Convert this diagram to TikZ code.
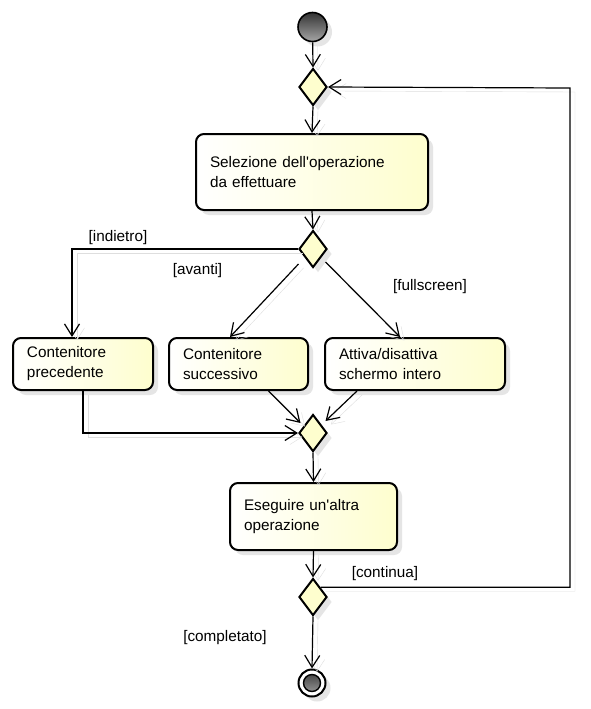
\documentclass[tikz,border=0pt]{standalone}
\usepackage{fontspec}
\setmainfont{Liberation Sans}
\usetikzlibrary{shapes.geometric,arrows.meta,shadows,calc}
\definecolor{actyellow}{RGB}{254,254,206}
\begin{document}
\begin{tikzpicture}[x=1pt,y=-1pt,
  font=\fontsize{15.3pt}{20pt}\selectfont,
  shadowed/.style={drop shadow={shadow xshift=5pt,shadow yshift=-5pt,fill=black!20}},
  act/.style={rectangle, rounded corners=8pt, draw, line width=2pt,
    left color=white, right color=actyellow, inner xsep=14pt, inner ysep=4pt,
    align=left, shadowed},
  dia/.style={diamond, draw, line width=2pt, fill=actyellow, inner sep=0pt,
    minimum width=28pt, minimum height=37pt, shadowed},
  conn/.style={line width=1.2pt, -{Straight Barb[length=12pt,width=15pt]},
    preaction={draw=black!13, transform canvas={shift={(5pt,-4pt)}}}},
  guard/.style={inner sep=1pt}
]
\path[use as bounding box, fill=white] (0,0) rectangle (590,709);

\node[circle, draw, line width=1.6pt, minimum size=29pt, inner sep=0pt,
  top color=black!80, bottom color=black!35, shadowed] (start) at (312.5,27) {};
\node[dia] (d1) at (313,87) {};
\node[act, minimum width=232pt, minimum height=76pt, text width=204pt] (sel) at (312,172)
  {Selezione dell\textquotesingle operazione\\da effettuare};
\node[dia] (d2) at (313,249) {};
\node[act, minimum width=140pt, minimum height=52pt, text width=112pt] (prec) at (83,364)
  {Contenitore\\precedente};
\node[act, minimum width=139pt, minimum height=52pt, text width=111pt] (succ) at (238.5,364)
  {Contenitore\\successivo};
\node[act, minimum width=180pt, minimum height=52pt, text width=152pt] (full) at (415,364)
  {Attiva/disattiva\\schermo intero};
\node[dia] (d3) at (313,433) {};
\node[act, minimum width=167pt, minimum height=67pt, text width=139pt] (ese) at (313.5,516.5)
  {Eseguire un\textquotesingle altra\\operazione};
\node[dia] (d4) at (313,597) {};
\node[circle, draw, line width=2pt, minimum size=27pt, inner sep=0pt, fill=white, shadowed,
  path picture={\shade[draw, line width=1.4pt, top color=black!80, bottom color=black!35]
    (path picture bounding box.center) circle (8.5pt);}] (end) at (312,683) {};

\coordinate (lr) at (570,88);

\node[guard] (lind) at (118,238) {[indietro]};
\node[guard] (lava) at (197.5,271) {[avanti]};
\node[guard] (lful) at (430,287) {[fullscreen]};
\node[guard] (lcon) at (385,574) {[continua]};
\node[guard] (lcom) at (225,638) {[completato]};

\draw[conn] (start) -- (d1.north);
\draw[conn] (d1.south) -- (sel.north);
\draw[conn] (sel.south) -- (d2.north);
\draw[conn] (d2.west) -| ([xshift=-11pt]prec.north);
\draw[conn] ([xshift=-14.5pt,yshift=-15pt]d2.center) -- ([xshift=-8.5pt]succ.north);
\draw[conn] ([xshift=12.5pt,yshift=-13pt]d2.center) -- ([xshift=-15pt]full.north);
\draw[conn] (prec.south) |- (d3.west);
\draw[conn] ([xshift=30pt]succ.south) -- ([xshift=-12.5pt,yshift=10pt]d3.center);
\draw[conn] ([xshift=-58pt]full.south) -- ([xshift=12.5pt,yshift=12pt]d3.center);
\draw[conn] (d3.south) -- (ese.north);
\draw[conn] (ese.south) -- (d4.north);
\draw[conn] (d4.south) -- (end.north);
\draw[conn] (d4.north east) -| (lr) -- (d1.east);
\end{tikzpicture}
\end{document}
